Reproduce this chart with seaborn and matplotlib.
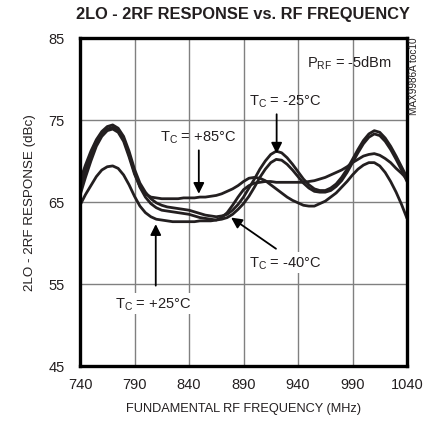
import matplotlib
matplotlib.use("Agg")
import matplotlib.pyplot as plt
import seaborn as sns
import pandas as pd

freq = [740, 745, 750, 755, 760, 765, 770, 775, 780, 785,
        790, 795, 800, 805, 810, 815, 820, 825, 830, 835,
        840, 845, 850, 855, 860, 865, 870, 875, 880, 885,
        890, 895, 900, 905, 910, 915, 920, 925, 930, 935,
        940, 945, 950, 955, 960, 965, 970, 975, 980, 985,
        990, 995, 1000, 1005, 1010, 1015, 1020, 1025, 1030, 1035,
        1040]

tc_p85 = [65.8, 68.0, 70.0, 71.8, 73.0, 73.7, 73.9, 73.5, 72.4, 70.5,
          68.4, 66.9, 66.0, 65.6, 65.5, 65.4, 65.4, 65.4, 65.4, 65.5,
          65.5, 65.5, 65.6, 65.6, 65.7, 65.8, 66.0, 66.3, 66.6, 67.0,
          67.5, 67.9, 68.0, 67.9, 67.6, 67.1, 66.6, 66.1, 65.6, 65.2,
          64.9, 64.6, 64.5, 64.5, 64.8, 65.1, 65.6, 66.1, 66.8, 67.5,
          68.3, 69.0, 69.5, 69.8, 69.8, 69.4, 68.6, 67.5, 66.2, 64.7,
          63.0]
tc_p25 = [64.6, 65.9, 67.0, 68.1, 68.9, 69.3, 69.4, 69.1, 68.3, 67.1,
          65.7, 64.5, 63.7, 63.2, 62.9, 62.8, 62.7, 62.6, 62.6, 62.6,
          62.6, 62.6, 62.7, 62.7, 62.7, 62.8, 63.1, 63.7, 64.6, 65.6,
          66.5, 67.0, 67.3, 67.4, 67.5, 67.5, 67.4, 67.4, 67.4, 67.4,
          67.4, 67.4, 67.5, 67.6, 67.8, 68.0, 68.3, 68.6, 68.9, 69.3,
          69.8, 70.2, 70.6, 70.8, 70.9, 70.7, 70.3, 69.8, 69.1, 68.5,
          67.8]
tc_m25 = [67.6, 69.5, 71.2, 72.6, 73.6, 74.2, 74.4, 74.0, 73.0, 71.2,
          69.0, 67.3, 66.2, 65.4, 64.9, 64.6, 64.4, 64.3, 64.2, 64.1,
          64.0, 63.8, 63.6, 63.4, 63.3, 63.2, 63.3, 63.5, 64.0, 64.7,
          65.6, 66.7, 67.8, 69.0, 70.0, 70.8, 71.2, 71.0, 70.4, 69.6,
          68.7, 67.8, 67.1, 66.6, 66.4, 66.4, 66.7, 67.2, 68.0, 69.0,
          70.2, 71.4, 72.5, 73.3, 73.7, 73.5, 72.8, 71.8, 70.6, 69.3,
          68.0]
tc_m40 = [66.7, 68.8, 70.6, 72.2, 73.3, 73.9, 74.1, 73.7, 72.7, 70.8,
          68.6, 66.8, 65.6, 64.8, 64.3, 64.0, 63.9, 63.8, 63.7, 63.6,
          63.5, 63.3, 63.1, 63.0, 62.9, 62.8, 62.9, 63.1, 63.5, 64.1,
          64.8, 65.7, 66.8, 68.0, 69.0, 69.8, 70.2, 70.1, 69.6, 68.9,
          68.1, 67.3, 66.7, 66.3, 66.2, 66.2, 66.4, 66.9, 67.6, 68.6,
          69.8, 71.0, 72.1, 72.9, 73.3, 73.1, 72.4, 71.4, 70.2, 68.9,
          67.5]

series_names = ["+85", "+25", "-25", "-40"]
xticks = [740, 790, 840, 890, 940, 990, 1040]
yticks = [45, 55, 65, 75, 85]

df = pd.concat([
    pd.DataFrame({"freq": freq, "resp": vals, "tc": name})
    for name, vals in zip(series_names, [tc_p85, tc_p25, tc_m25, tc_m40])
])

sns.set_theme(style="white")
fam = ["Liberation Sans", "DejaVu Sans"]
plt.rcParams["font.family"] = fam
plt.rcParams["mathtext.fontset"] = "custom"
plt.rcParams["mathtext.rm"] = "Liberation Sans"
plt.rcParams["mathtext.it"] = "Liberation Sans"

fig = plt.figure(figsize=(4.24, 4.31), dpi=100)
ax = fig.add_axes([80 / 424, 1 - 367 / 431, 327 / 424, 328 / 431])

sns.lineplot(data=df, x="freq", y="resp", hue="tc", palette=["#231f20"] * 4,
             linewidth=2.0, legend=False, ax=ax, sort=False,
             solid_joinstyle="round", solid_capstyle="round")

ax.set_xlim(740, 1040)
ax.set_ylim(45, 85)
ax.set_xticks(xticks)
ax.set_yticks(yticks)
ax.grid(True, color="#808080", linewidth=1.0)
ax.set_axisbelow(True)
for s in ax.spines.values():
    s.set_color("black")
    s.set_linewidth(2.4)
ax.tick_params(axis="both", length=0, labelsize=10.5, colors="#231f20")
ax.tick_params(axis="x", pad=8)
ax.tick_params(axis="y", pad=11)
ax.set_xlabel("FUNDAMENTAL RF FREQUENCY (MHz)", fontsize=9.2, color="#231f20", labelpad=8)
ax.set_ylabel("2LO - 2RF RESPONSE (dBc)", fontsize=9.6, color="#231f20", labelpad=9)

fig.text(243 / 424, 1 - 14 / 431, "2LO - 2RF RESPONSE vs. RF FREQUENCY",
         ha="center", va="center", fontsize=11.8, fontweight="bold", color="#231f20")
fig.text(414 / 424, 1 - 76 / 431, "MAX9986A toc10", rotation=90, ha="center", va="center",
         fontsize=7.2, color="#231f20")

tsz = 10.5
ax.text(1026, 82.0, r"P$_{\mathrm{RF}}$ = -5dBm", ha="right", va="center", fontsize=tsz, color="#231f20")
ax.text(928, 77.4, r"T$_{\mathrm{C}}$ = -25°C", ha="center", va="center", fontsize=tsz, color="#231f20")
ax.text(848, 72.9, r"T$_{\mathrm{C}}$ = +85°C", ha="center", va="center", fontsize=tsz, color="#231f20")
ax.text(928, 57.6, r"T$_{\mathrm{C}}$ = -40°C", ha="center", va="center", fontsize=tsz, color="#231f20",
        bbox=dict(facecolor="white", edgecolor="none", pad=1.5))
ax.text(807, 52.6, r"T$_{\mathrm{C}}$ = +25°C", ha="center", va="center", fontsize=tsz, color="#231f20",
        bbox=dict(facecolor="white", edgecolor="none", pad=1.5))

ap = dict(arrowstyle="-|>", color="black", lw=1.3, mutation_scale=16, shrinkA=0, shrinkB=0)
ax.annotate("", xy=(920.4, 70.9), xytext=(920.4, 75.7), arrowprops=ap)
ax.annotate("", xy=(849, 66.0), xytext=(849, 71.3), arrowprops=ap)
ax.annotate("", xy=(878.6, 63.1), xytext=(919.8, 59.3), arrowprops=ap)
ax.annotate("", xy=(809.5, 62.3), xytext=(809.5, 54.8), arrowprops=ap)

fig.savefig("out.png", dpi=100)
